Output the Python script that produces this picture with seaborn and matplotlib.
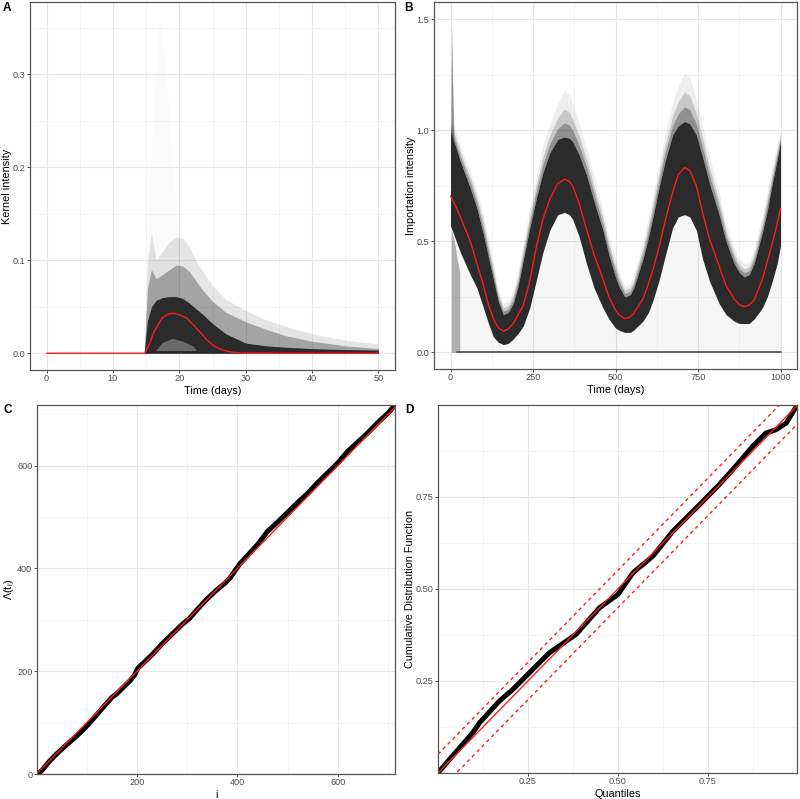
import matplotlib
matplotlib.use("Agg")
import matplotlib.pyplot as plt
import seaborn as sns
import numpy as np

# ---------------- Panel A: kernel intensity ----------------
kernel_t = [0, 14.8, 15.5, 16.1, 17.4, 18.3, 19.1, 20.0, 21.1, 22.2, 23.2, 24.2, 25.2, 26.5, 27.7, 29.2, 35, 50]
kernel_mean = [0, 0, 0.010, 0.022, 0.038, 0.042, 0.043, 0.0415, 0.038, 0.030, 0.022, 0.014, 0.0078, 0.0035, 0.0014, 0.0002, 0, 0]

env_t = [14.7, 15.2, 15.8, 16.5, 17.5, 18.5, 19.5, 20.5, 21.5, 22.5, 23.5, 25, 27, 30, 33, 36, 40, 45, 50]
env_outer = [0.0, 0.10, 0.13, 0.10, 0.11, 0.12, 0.125, 0.124, 0.115, 0.10, 0.088, 0.073, 0.058, 0.046, 0.036, 0.029, 0.021, 0.014, 0.010]
env_mid = [0.0, 0.07, 0.09, 0.08, 0.085, 0.09, 0.095, 0.094, 0.088, 0.078, 0.068, 0.056, 0.044, 0.034, 0.026, 0.019, 0.013, 0.008, 0.005]
env_core = [0.0, 0.035, 0.05, 0.057, 0.060, 0.061, 0.061, 0.059, 0.054, 0.048, 0.042, 0.032, 0.021, 0.011, 0.008, 0.0065, 0.005, 0.004, 0.0035]
spike_t = [15.0, 16.0, 17.0, 18.0, 19.0, 20.0]
spike_top = [0.10, 0.25, 0.36, 0.30, 0.20, 0.13]
hole_t = [16.5, 17.5, 19.0, 20.5, 22.0, 22.5]
hole_lo = [0.003, 0.003, 0.003, 0.003, 0.003, 0.003]
hole_hi = [0.004, 0.012, 0.016, 0.013, 0.008, 0.004]

# ---------------- Panel B: importation intensity ----------------
imp_t = [0, 15, 30, 45, 60, 80, 100, 115, 130, 145, 160, 175, 190, 205, 221, 240, 261, 280, 301, 325,
         345, 360, 370, 390, 412, 435, 462, 480, 500, 510, 528, 545, 555, 583, 600, 615, 633, 650, 673,
         690, 709, 725, 745, 764, 785, 814, 835, 860, 875, 890, 905, 920, 945, 960, 975, 990, 1000]
imp_mean = [0.705, 0.66, 0.61, 0.555, 0.50, 0.40, 0.30, 0.215, 0.15, 0.11, 0.095, 0.105, 0.13, 0.17, 0.212,
            0.32, 0.48, 0.60, 0.69, 0.76, 0.78, 0.77, 0.75, 0.67, 0.556, 0.44, 0.33, 0.25, 0.19, 0.17, 0.152,
            0.16, 0.175, 0.24, 0.31, 0.38, 0.48, 0.59, 0.72, 0.80, 0.832, 0.82, 0.75, 0.63, 0.51, 0.39, 0.30,
            0.24, 0.215, 0.205, 0.213, 0.235, 0.33, 0.41, 0.49, 0.58, 0.648]
imp_upper = [0.99, 0.93, 0.86, 0.80, 0.74, 0.65, 0.53, 0.43, 0.33, 0.23, 0.17, 0.18, 0.22, 0.30, 0.42, 0.56,
             0.70, 0.81, 0.90, 0.96, 0.97, 0.965, 0.95, 0.89, 0.80, 0.68, 0.55, 0.44, 0.34, 0.30, 0.25, 0.26,
             0.29, 0.42, 0.52, 0.62, 0.75, 0.86, 0.98, 1.02, 1.04, 1.03, 0.98, 0.88, 0.76, 0.62, 0.50, 0.40,
             0.36, 0.34, 0.35, 0.40, 0.54, 0.64, 0.76, 0.87, 0.95]
imp_lower = [0.57, 0.51, 0.45, 0.40, 0.35, 0.29, 0.20, 0.13, 0.07, 0.045, 0.035, 0.04, 0.06, 0.085, 0.12,
             0.20, 0.33, 0.45, 0.55, 0.62, 0.63, 0.62, 0.60, 0.52, 0.40, 0.29, 0.20, 0.15, 0.11, 0.10, 0.09,
             0.09, 0.10, 0.14, 0.18, 0.24, 0.33, 0.43, 0.56, 0.61, 0.62, 0.61, 0.55, 0.42, 0.32, 0.22, 0.17,
             0.14, 0.13, 0.13, 0.13, 0.15, 0.20, 0.25, 0.32, 0.40, 0.48]
imp_outer = [1.05, 1.00, 0.93, 0.87, 0.82, 0.73, 0.62, 0.51, 0.40, 0.28, 0.22, 0.23, 0.28, 0.37, 0.50, 0.65,
             0.80, 0.93, 1.03, 1.12, 1.18, 1.16, 1.12, 1.03, 0.92, 0.79, 0.64, 0.52, 0.42, 0.37, 0.30, 0.31,
             0.35, 0.50, 0.61, 0.72, 0.86, 0.98, 1.12, 1.20, 1.26, 1.24, 1.14, 1.02, 0.88, 0.72, 0.58, 0.47,
             0.42, 0.40, 0.41, 0.47, 0.62, 0.73, 0.84, 0.94, 1.00]
imp_spike_t = [1, 3, 6, 10]
imp_spike_top = [1.00, 1.48, 1.25, 1.00]
imp_drop_t = [3, 8, 14, 20, 28]
imp_drop_top = [0.55, 0.52, 0.48, 0.42, 0.36]
imp_zero_t = [20, 1000]
imp_zero_v = [0, 0]

# ---------------- Panel C: time-rescaling ----------------
event_i = [1, 10, 25, 40, 60, 80, 95, 110, 125, 140, 150, 160, 170, 185, 195, 202, 215, 230, 250, 270, 290,
           305, 320, 340, 360, 375, 385, 395, 405, 420, 440, 460, 480, 500, 520, 540, 560, 580, 600, 620,
           640, 660, 680, 700, 714]
comp_lambda = [0, 6, 24, 39, 57, 74, 88, 104, 121, 138, 149, 156, 166, 180, 192, 206, 218, 232, 253, 272, 291,
               303, 320, 341, 359, 371, 381, 395, 409, 425, 446, 472, 490, 509, 528, 546, 567, 586, 605, 628,
               646, 664, 684, 702, 718]
n_events = 714

# ---------------- Panel D: KS plot ----------------
ks_q = [0, 0.032, 0.097, 0.116, 0.171, 0.208, 0.264, 0.31, 0.356, 0.384, 0.449, 0.5, 0.542, 0.597, 0.653,
        0.727, 0.782, 0.819, 0.875, 0.912, 0.94, 0.968, 0.998]
ks_cdf = [0, 0.037, 0.11, 0.137, 0.196, 0.227, 0.282, 0.327, 0.358, 0.377, 0.449, 0.485, 0.544, 0.589, 0.657,
          0.729, 0.784, 0.824, 0.888, 0.924, 0.933, 0.951, 0.999]
ks_band = 0.0509

# tick labels
a_xt = [0, 10, 20, 30, 40, 50]; a_yt = [0.0, 0.1, 0.2, 0.3]
b_xt = [0, 250, 500, 750, 1000]; b_yt = [0.0, 0.5, 1.0, 1.5]
c_xt = [200, 400, 600]; c_yt = [0, 200, 400, 600]
d_xt = [0.25, 0.50, 0.75]; d_yt = [0.25, 0.50, 0.75]

sns.set_theme(style="white")
plt.rcParams["font.family"] = ["Liberation Sans", "DejaVu Sans"]
plt.rcParams["mathtext.fontset"] = "custom"
plt.rcParams["mathtext.rm"] = "Liberation Sans"
plt.rcParams["mathtext.it"] = "Liberation Sans"

W, H = 800, 799
fig = plt.figure(figsize=(W / 100, H / 100), dpi=100)
fig.patch.set_facecolor("white")


def px_axes(l, r, t, b):
    return fig.add_axes([l / W, (H - b) / H, (r - l) / W, (b - t) / H])


def style(ax, xt, xminor, yt, yminor, xlim, ylim, xfmt, yfmt, xlabel, ylabel):
    ax.set_facecolor("white")
    ax.set_xlim(*xlim); ax.set_ylim(*ylim)
    ax.set_xticks(xt); ax.set_yticks(yt)
    ax.set_xticks(xminor, minor=True); ax.set_yticks(yminor, minor=True)
    ax.set_xticklabels([xfmt.format(v) for v in xt])
    ax.set_yticklabels([yfmt.format(v) for v in yt])
    ax.grid(which="major", color="#E6E6E6", lw=0.8)
    ax.grid(which="minor", color="#F2F2F2", lw=0.6)
    ax.set_axisbelow(True)
    ax.tick_params(which="major", length=2.2, width=0.6, color="#333333", pad=1.0,
                   labelsize=6.6, labelcolor="#4D4D4D", bottom=True, left=True)
    ax.tick_params(which="minor", length=0)
    for s in ax.spines.values():
        s.set_color("#555555"); s.set_linewidth(0.9); s.set_zorder(10)
    ax.set_xlabel(xlabel, fontsize=7.8, color="black", labelpad=1.5)
    ax.set_ylabel(ylabel, fontsize=7.8, color="black", labelpad=0.8)


core = "#2b2b2b"

# ---- A ----
axA = px_axes(30, 395, 2, 370)
axA.fill_between(spike_t, 0, spike_top, color=core, alpha=0.015, lw=0)
axA.fill_between(env_t, 0, env_outer, color=core, alpha=0.12, lw=0)
axA.fill_between(env_t, 0, env_mid, color=core, alpha=0.35, lw=0)
axA.fill_between(env_t, 0, env_core, color=core, alpha=1.0, lw=0)
axA.fill_between(hole_t, hole_lo, hole_hi, color="white", alpha=0.3, lw=0)
sns.lineplot(x=kernel_t, y=kernel_mean, ax=axA, color="#FF1A1A", lw=1.0, sort=False, estimator=None)
style(axA, a_xt, [5, 15, 25, 35, 45], a_yt, [0.05, 0.15, 0.25, 0.35], (-2.5, 52.5), (-0.018, 0.378),
      "{:d}", "{:.1f}", "Time (days)", "Kernel intensity")

# ---- B ----
axB = px_axes(434, 797, 2, 369)
up = np.array(imp_upper); out = np.array(imp_outer)
axB.fill_between(imp_t, 0, imp_lower, color=core, alpha=0.04, lw=0)
axB.fill_between(imp_drop_t, 0, imp_drop_top, color=core, alpha=0.35, lw=0)
axB.fill_between(imp_t, up, out, color=core, alpha=0.08, lw=0)
axB.fill_between(imp_t, up, up + (out - up) * 0.6, color=core, alpha=0.2, lw=0)
axB.fill_between(imp_t, up, up + (out - up) * 0.3, color=core, alpha=0.35, lw=0)
axB.fill_between(imp_spike_t, 0.9, imp_spike_top, color=core, alpha=0.5, lw=0)
axB.fill_between(imp_t, imp_lower, imp_upper, color=core, alpha=1.0, lw=0)
sns.lineplot(x=imp_zero_t, y=imp_zero_v, ax=axB, color="#555555", lw=1.3, sort=False, estimator=None)
sns.lineplot(x=imp_t, y=imp_mean, ax=axB, color="#FF1A1A", lw=1.0, sort=False, estimator=None)
style(axB, b_xt, [125, 375, 625, 875], b_yt, [0.25, 0.75, 1.25], (-50, 1050), (-0.075, 1.578),
      "{:d}", "{:.1f}", "Time (days)", "Importation intensity")

# ---- C ----
axC = px_axes(37, 395, 405, 774)
sns.lineplot(x=event_i, y=comp_lambda, ax=axC, color="black", lw=3.6, sort=False, estimator=None,
             solid_capstyle="round", solid_joinstyle="round")
ref_c = [0, n_events + 4]
sns.lineplot(x=ref_c, y=ref_c, ax=axC, color="#FF1A1A", lw=1.0, sort=False, estimator=None)
style(axC, c_xt, [100, 300, 500, 700], c_yt, [100, 300, 500, 700], (1, 714), (0, 718),
      "{:d}", "{:d}", "i", r"$\Lambda(\mathrm{t_i})$")

# ---- D ----
axD = px_axes(438, 797, 405, 773)
sns.lineplot(x=ks_q, y=ks_cdf, ax=axD, color="black", lw=3.6, sort=False, estimator=None,
             solid_capstyle="round", solid_joinstyle="round")
ref_d = np.array([0.0, 1.0])
sns.lineplot(x=ref_d, y=ref_d, ax=axD, color="#FF1A1A", lw=1.0, sort=False, estimator=None)
sns.lineplot(x=ref_d, y=ref_d + ks_band, ax=axD, color="#FF1A1A", lw=1.0, linestyle=(0, (2.5, 2.5)),
             sort=False, estimator=None)
sns.lineplot(x=ref_d, y=ref_d - ks_band, ax=axD, color="#FF1A1A", lw=1.0, linestyle=(0, (2.5, 2.5)),
             sort=False, estimator=None)
style(axD, d_xt, [0.125, 0.375, 0.625, 0.875], d_yt, [0.125, 0.375, 0.625, 0.875], (0.0, 0.998), (0.0, 1.0),
      "{:.2f}", "{:.2f}", "Quantiles", "Cumulative Distribution Function")

for ax in (axA, axB, axC, axD):
    leg = ax.get_legend()
    if leg is not None:
        leg.remove()

for lab, (x, y) in zip("ABCD", [(3, 2), (404, 2), (3, 404), (405, 404)]):
    fig.text(x / W, 1 - y / H, lab, ha="left", va="top", fontsize=8.6, fontweight="bold", color="black")

fig.savefig("out.png", dpi=100, facecolor="white")
